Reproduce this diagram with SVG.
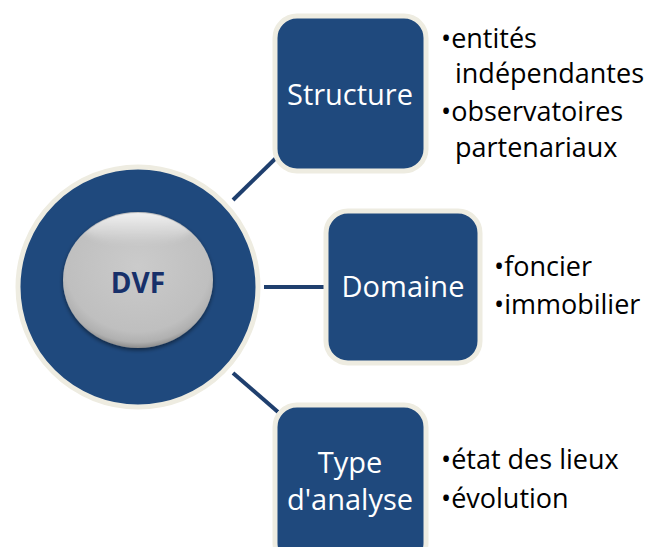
<svg xmlns="http://www.w3.org/2000/svg" width="649" height="547" viewBox="0 0 649 547">
<defs>
<style>
.box{fill:#1f497d;stroke:#eeece1;stroke-width:5}
.lbl{font-family:"Open Sans","Noto Sans",sans-serif;font-size:29px;fill:#ffffff;text-anchor:middle}
.bul{font-family:"Open Sans","Noto Sans",sans-serif;font-size:27px;fill:#000000}
.con{stroke:#1f3f6e;stroke-width:4;fill:none}
</style>
<radialGradient id="pearl" cx="0.5" cy="0.4" r="0.6">
<stop offset="0" stop-color="#cbcbcb"/>
<stop offset="0.8" stop-color="#bfbfbf"/>
<stop offset="0.93" stop-color="#b0b0b0"/>
<stop offset="1" stop-color="#8c8c8c"/>
</radialGradient>
<linearGradient id="shine" x1="0" y1="0" x2="0" y2="1">
<stop offset="0" stop-color="#ffffff" stop-opacity="0.9"/>
<stop offset="1" stop-color="#ffffff" stop-opacity="0"/>
</linearGradient>
<filter id="sh" x="-20%" y="-20%" width="140%" height="140%">
<feGaussianBlur in="SourceAlpha" stdDeviation="2"/>
<feOffset dy="2"/>
<feComponentTransfer><feFuncA type="linear" slope="0.5"/></feComponentTransfer>
<feMerge><feMergeNode/><feMergeNode in="SourceGraphic"/></feMerge>
</filter>
<filter id="bl"><feGaussianBlur stdDeviation="3"/></filter>
<clipPath id="ec"><ellipse cx="138" cy="280" rx="74" ry="67"/></clipPath>
</defs>
<g id="connectors">
<line class="con" x1="233" y1="200" x2="277" y2="157"/>
<line class="con" x1="264" y1="287" x2="326" y2="287"/>
<line class="con" x1="233" y1="373" x2="278" y2="412"/>
</g>
<g id="dvf">
<circle cx="138" cy="287" r="120" fill="#1f497d" stroke="#eeece1" stroke-width="5"/>
<ellipse cx="138" cy="280" rx="75" ry="68" fill="url(#pearl)" filter="url(#sh)"/>
<g clip-path="url(#ec)"><ellipse cx="138" cy="226" rx="56" ry="18" fill="url(#shine)" filter="url(#bl)"/></g>
<text x="138" y="293" font-family="'Open Sans','Noto Sans',sans-serif" font-size="28" font-weight="bold" fill="#17306a" text-anchor="middle">DVF</text>
</g>
<g id="structure">
<rect class="box" x="275" y="16" width="151" height="155" rx="22"/>
<text class="lbl" x="350" y="105">Structure</text>
<text class="bul" x="441" y="48">•entités</text>
<text class="bul" x="455" y="83">indépendantes</text>
<text class="bul" x="441" y="121">•observatoires</text>
<text class="bul" x="455" y="157">partenariaux</text>
</g>
<g id="domaine">
<rect class="box" x="326" y="211" width="154" height="152" rx="22"/>
<text class="lbl" x="403" y="297">Domaine</text>
<text class="bul" x="494" y="276">•foncier</text>
<text class="bul" x="494" y="314">•immobilier</text>
</g>
<g id="type">
<rect class="box" x="275" y="405" width="151" height="160" rx="22"/>
<text class="lbl" x="350" y="473">Type</text>
<text class="lbl" x="350" y="510">d'analyse</text>
<text class="bul" x="441" y="469">•état des lieux</text>
<text class="bul" x="441" y="508">•évolution</text>
</g>
</svg>
